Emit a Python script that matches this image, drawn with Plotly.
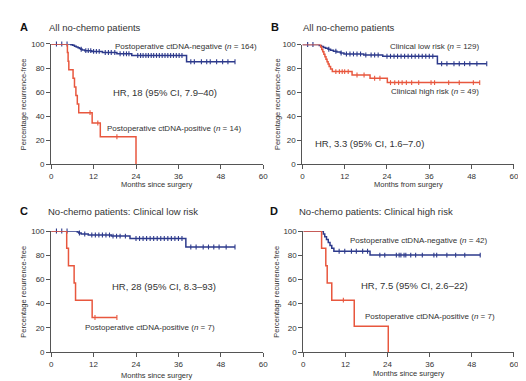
import plotly.graph_objects as go

W, H = 526, 381
BLUE = "#2d3a8c"
RED = "#e8573e"
TXT = "#333333"
FONT = "Liberation Sans, Arial, sans-serif"

# ---------------- data (event times in months, survival % after step) ----------------
A_neg_t = [5.6, 6.1, 6.6, 7.1, 7.6, 8.0, 8.4, 8.8, 9.5, 11.5, 14.5, 18.6, 22.8, 38.3]
A_neg_s = [99.4, 98.8, 98.1, 97.5, 96.9, 96.2, 95.6, 95.0, 94.4, 93.8, 92.9, 91.8, 90.4, 85.2]
A_neg_end = 52.0
A_neg_c = [1.5, 3.0, 4.5, 8.5, 9.8, 10.5, 11.2, 12.0, 12.8, 13.6, 15.3, 16.2, 17.0, 18.0, 19.5, 20.5,
           21.3, 22.0, 24.5, 25.3, 26.0, 26.8, 27.5, 28.3, 29.0, 29.8, 30.6, 31.4, 32.2, 33.0, 33.8,
           34.6, 35.4, 36.2, 37.0, 39.5, 40.5, 42.5, 44.0, 45.0, 46.8, 48.5, 50.0, 52.0]
A_pos_t = [4.6, 4.8, 5.0, 6.2, 6.6, 7.0, 7.4, 7.8, 11.6, 13.9, 24.0]
A_pos_s = [92.9, 85.7, 78.6, 71.4, 64.3, 57.1, 50.0, 42.9, 34.3, 22.9, 0.0]
A_pos_end = 24.0
A_pos_c = [11.0, 13.2, 18.6]

B_low_t = [4.8, 5.4, 6.0, 6.6, 7.3, 8.0, 8.8, 9.8, 10.8, 11.8, 17.4, 22.8, 38.3]
B_low_s = [99.2, 98.4, 97.6, 96.8, 96.0, 95.2, 94.4, 93.7, 92.9, 92.1, 91.3, 90.2, 84.0]
B_low_end = 52.3
B_low_c = [1.5, 3.0, 7.5, 9.5, 11.0, 12.5, 13.5, 14.5, 15.5, 16.5, 18.0, 19.5, 20.5, 21.5, 24.0,
           25.0, 26.0, 27.0, 28.0, 29.0, 30.0, 31.0, 32.0, 33.0, 34.0, 35.0, 36.0, 37.0, 39.5, 41.0,
           43.0, 44.5, 46.0, 47.5, 49.5, 52.3]
B_high_t = [5.2, 5.5, 5.8, 6.1, 6.4, 6.7, 7.0, 7.3, 7.6, 8.0, 8.5, 14.1, 19.2, 24.1]
B_high_s = [97.9, 95.9, 93.9, 91.8, 89.8, 87.8, 85.7, 83.7, 81.6, 79.6, 77.4, 74.6, 71.8, 68.2]
B_high_end = 50.3
B_high_c = [9.5, 10.5, 11.3, 12.0, 13.0, 15.5, 17.5, 20.5, 22.0, 25.0, 26.2, 27.3, 28.3, 29.5,
            31.0, 33.0, 36.5, 37.5, 41.5, 44.5, 48.5, 50.3]

C_neg_t = [7.4, 7.8, 8.5, 10.5, 17.0, 22.3, 38.1]
C_neg_s = [99.2, 98.4, 97.5, 96.7, 95.8, 93.8, 86.8]
C_neg_end = 52.0
C_neg_c = [1.5, 3.0, 4.5, 8.0, 9.5, 11.5, 12.5, 13.5, 14.5, 15.5, 16.5, 17.5, 18.5, 19.5, 21.0,
           24.0, 25.0, 26.0, 27.0, 28.0, 29.0, 30.0, 31.0, 32.0, 33.0, 34.0, 35.0, 36.0, 37.0,
           39.5, 41.0, 43.0, 44.5, 46.0, 47.5, 49.5, 52.0]
C_pos_t = [4.4, 4.9, 6.5, 6.9, 11.6]
C_pos_s = [85.7, 71.4, 57.1, 42.9, 28.6]
C_pos_end = 18.6
C_pos_c = [12.4, 18.6]

D_neg_t = [5.7, 6.1, 6.6, 7.1, 7.6, 8.1, 8.7, 19.0]
D_neg_s = [97.6, 95.2, 92.9, 90.5, 88.1, 85.7, 83.3, 80.1]
D_neg_end = 50.4
D_neg_c = [10.2, 11.8, 13.7, 15.1, 16.9, 18.3, 21.8, 23.2, 26.5, 27.3, 27.8, 28.7, 29.2, 30.6,
           32.0, 33.9, 37.2, 38.0, 40.9, 43.4, 46.0, 50.4]
D_pos_t = [5.2, 6.4, 6.8, 8.1, 14.5, 24.2]
D_pos_s = [85.7, 71.4, 57.1, 42.9, 21.4, 0.0]
D_pos_end = 24.2
D_pos_c = [11.4]

x_ticks = [0, 12, 24, 36, 48, 60]
y_ticks = [0, 20, 40, 60, 80, 100]

# ---------------- layout geometry (pixels) ----------------
panels = [
    dict(letter="A", title="All no-chemo patients", x0=41.7, x1=256.7, yt=32.7, yb=156.0,
         xtitle="Months since surgery", lx=14, ty=15.7, tx=38.0, xtx=149, xty=176.7, ytx=13.3),
    dict(letter="B", title="All no-chemo patients", x0=296.3, x1=510.7, yt=33.3, yb=156.0,
         xtitle="Months from surgery", lx=269, ty=15.7, tx=295.3, xtx=404, xty=176.7, ytx=271.3),
    dict(letter="C", title="No-chemo patients: Clinical low risk", x0=41.7, x1=256.7, yt=224.3, yb=348.3,
         xtitle="Months since surgery", lx=14, ty=204, tx=36.7, xtx=149, xty=372.7, ytx=13.3),
    dict(letter="D", title="No-chemo patients: Clinical high risk", x0=297.3, x1=510.7, yt=224.3, yb=348.3,
         xtitle="Months since surgery", lx=268, ty=204, tx=290.7, xtx=404.7, xty=370.7, ytx=269.7),
]

curves = [
    (0, A_neg_t, A_neg_s, A_neg_end, A_neg_c, BLUE),
    (0, A_pos_t, A_pos_s, A_pos_end, A_pos_c, RED),
    (1, B_low_t, B_low_s, B_low_end, B_low_c, BLUE),
    (1, B_high_t, B_high_s, B_high_end, B_high_c, RED),
    (2, C_neg_t, C_neg_s, C_neg_end, C_neg_c, BLUE),
    (2, C_pos_t, C_pos_s, C_pos_end, C_pos_c, RED),
    (3, D_neg_t, D_neg_s, D_neg_end, D_neg_c, BLUE),
    (3, D_pos_t, D_pos_s, D_pos_end, D_pos_c, RED),
]

labels = [
    (0, "Postoperative ctDNA-negative (<i>n</i> = 164)", 17.5, 97.6, 8),
    (0, "HR, 18 (95% CI, 7.9–40)", 17.0, 59.8, 9.5),
    (0, "Postoperative ctDNA-positive (<i>n</i> = 14)", 15.1, 30.0, 8),
    (1, "Clinical low risk (<i>n</i> = 129)", 24.3, 98.0, 8),
    (1, "Clinical high risk (<i>n</i> = 49)", 24.7, 60.6, 8),
    (1, "HR, 3.3 (95% CI, 1.6–7.0)", 3.0, 17.7, 9.5),
    (2, "Postoperative ctDNA-negative (<i>n</i> = 122)", 16.7, 100.8, 8),
    (2, "HR, 28 (95% CI, 8.3–93)", 16.6, 54.5, 9.5),
    (2, "Postoperative ctDNA-positive (<i>n</i> = 7)", 9.1, 20.2, 8),
    (3, "Postoperative ctDNA-negative (<i>n</i> = 42)", 12.6, 92.2, 8),
    (3, "HR, 7.5 (95% CI, 2.6–22)", 16.0, 55.1, 9.5),
    (3, "Postoperative ctDNA-positive (<i>n</i> = 7)", 16.9, 29.0, 8),
]


def step_value(t_list, s_list, t):
    v = 100.0
    for tt, ss in zip(t_list, s_list):
        if tt <= t:
            v = ss
    return v


fig = go.Figure()
layout = dict(width=W, height=H, margin=dict(l=0, r=0, t=0, b=0),
              paper_bgcolor="white", plot_bgcolor="white", showlegend=False,
              font=dict(family=FONT, color=TXT))
annotations = []

for i, p in enumerate(panels):
    sfx = "" if i == 0 else str(i + 1)
    ax_common = dict(showgrid=False, zeroline=False, showline=True, linecolor="#555555",
                     linewidth=1, ticks="outside", ticklen=4, tickwidth=1, tickcolor="#555555",
                     tickfont=dict(size=8, color=TXT, family=FONT))
    layout["xaxis" + sfx] = dict(ax_common, domain=[p["x0"] / W, p["x1"] / W], range=[0, 60],
                                 tickvals=x_ticks, anchor="y" + sfx)
    layout["yaxis" + sfx] = dict(ax_common, domain=[1 - p["yb"] / H, 1 - p["yt"] / H],
                                 range=[0, 100], tickvals=y_ticks, anchor="x" + sfx)
    annotations.append(dict(text="<b>%s</b>" % p["letter"], x=p["lx"] / W, y=1 - p["ty"] / H,
                            xref="paper", yref="paper", showarrow=False, xanchor="center",
                            yanchor="middle", font=dict(size=11, color="#111", family=FONT)))
    annotations.append(dict(text=p["title"], x=p["tx"] / W, y=1 - p["ty"] / H,
                            xref="paper", yref="paper", showarrow=False, xanchor="left",
                            yanchor="middle", font=dict(size=9.5, color=TXT, family=FONT)))
    annotations.append(dict(text=p["xtitle"], x=p["xtx"] / W, y=1 - p["xty"] / H,
                            xref="paper", yref="paper", showarrow=False, xanchor="center",
                            yanchor="middle", font=dict(size=7.5, color=TXT, family=FONT)))
    annotations.append(dict(text="Percentage recurrence-free", x=p["ytx"] / W,
                            y=1 - (p["yt"] + p["yb"]) / 2 / H, textangle=-90,
                            xref="paper", yref="paper", showarrow=False, xanchor="center",
                            yanchor="middle", font=dict(size=7.5, color=TXT, family=FONT)))

for (pi, t, s, end, cens, col) in curves:
    sfx = "" if pi == 0 else str(pi + 1)
    xs = [0] + list(t) + [end]
    ys = [100] + list(s) + [s[-1]]
    fig.add_trace(go.Scatter(x=xs, y=ys, mode="lines", line=dict(color=col, width=1.5, shape="hv"),
                             xaxis="x" + sfx, yaxis="y" + sfx, cliponaxis=False, hoverinfo="skip"))
    cy = [step_value(t, s, c) for c in cens]
    fig.add_trace(go.Scatter(x=cens, y=cy, mode="markers",
                             marker=dict(symbol="line-ns", size=3.5, line=dict(color=col, width=1.1)),
                             xaxis="x" + sfx, yaxis="y" + sfx, cliponaxis=False, hoverinfo="skip"))

for (pi, txt, x, y, fs) in labels:
    sfx = "" if pi == 0 else str(pi + 1)
    annotations.append(dict(text=txt, x=x, y=y, xref="x" + sfx, yref="y" + sfx, showarrow=False,
                            xanchor="left", yanchor="middle",
                            font=dict(size=fs, color=TXT, family=FONT)))

layout["annotations"] = annotations
fig.update_layout(**layout)
fig.write_html("out.html")
